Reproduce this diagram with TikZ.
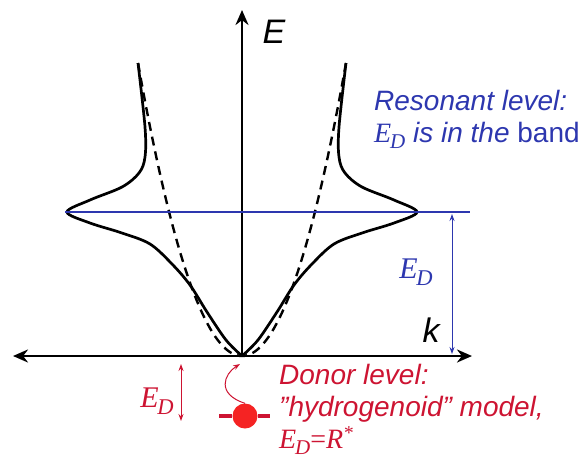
\documentclass[tikz,border=0pt]{standalone}
\usepackage{fontspec}
\setmainfont{Liberation Sans}
\newfontfamily\tms{Liberation Serif}
\usetikzlibrary{arrows.meta}
\definecolor{lvlBlue}{RGB}{45,55,175}
\definecolor{dnrRed}{RGB}{205,20,50}
\definecolor{dotRed}{RGB}{245,35,35}
\newcommand{\EDsym}{{\tms\itshape E\kern-0.04em\raisebox{-0.22em}{\scalebox{0.75}{D}}}}

\begin{document}
\begin{tikzpicture}[x=1pt, y=-1pt,
  ax/.style={line width=2.9pt, black},
  band/.style={line width=2.7pt, black, line join=round},
  free/.style={line width=2.4pt, black, dash pattern=on 9pt off 6pt},
  lvl/.style={line width=1.3pt, lvlBlue},
  gap/.style={line width=1pt, {Stealth[length=7pt,width=5pt]}-{Stealth[length=7pt,width=5pt]}},
  ann/.style={font=\fontsize{28}{32}\selectfont\itshape, align=left, inner sep=0pt},
  big/.style={font=\fontsize{34}{34}\selectfont\itshape, inner sep=0pt},
  >={Stealth[length=15pt,width=13pt]}
]
\useasboundingbox (0,0) rectangle (583,464);

%% -- axes ----------------------------------------------------
\coordinate (o) at (242,356);
\coordinate (kl) at (13,356);
\coordinate (kr) at (472,356);
\coordinate (et) at (242,10);
\draw[ax, <->] (kl) -- (kr);
\draw[ax, ->] (o) -- (et);
\node[big] (elab) at (274,32) {E};
\node[big] (klab) at (431,330) {k};

%% -- dispersion: free (dashed) and with resonance (solid) -----
\foreach \sd in {1,-1}{
  \begin{scope}[shift={(242,0)}, xscale=\sd]
    \draw[free] plot[domain=-104:0, samples=40] (\x, {356-293*(\x/104)^2});
    \draw[band] plot[smooth, tension=0.55] coordinates {
      (-104,63) (-97,127) (-97,157) (-103,173) (-120,187) (-152,200)
      (-175,212) (-152,223) (-120,233) (-92,244) (-70,264) (-52,285)
      (-35,312) (-16,340) (0,356)};
  \end{scope}
}

%% -- resonant level ------------------------------------------
\coordinate (rl) at (65,212);
\coordinate (rr) at (470,212);
\draw[lvl] (rl) -- (rr);
\coordinate (gt) at (452,214);
\coordinate (gb) at (452,354);
\draw[gap, lvlBlue] (gt) -- (gb);
\node[ann, lvlBlue, font=\fontsize{30}{30}\selectfont] (edb) at (416,272) {\EDsym};
\node[ann, lvlBlue, anchor=west] (res) at (374,119)
  {Resonant level:\\\EDsym{} is in the {\upshape band}};

%% -- donor level ---------------------------------------------
\coordinate (dt) at (181,364);
\coordinate (db) at (181,421);
\draw[gap, dnrRed] (dt) -- (db);
\node[ann, dnrRed, font=\fontsize{30}{30}\selectfont] (edr) at (157,401) {\EDsym};
\node[fill=dotRed, circle, minimum size=25pt, inner sep=0pt] (dot) at (245,416) {};
\draw[dnrRed, line width=3.8pt] (dot.center) ++(-26,0) coordinate (dl) -- (dot.west);
\draw[dnrRed, line width=3.8pt] (dot.east) -- ++(12,0) coordinate (dr);
\coordinate (hit) at (240,364);
\draw[dnrRed, line width=1pt, -{Stealth[length=7pt,width=5pt]}]
  (dot.north) .. controls (216,394) and (224,374) .. (hit);
\node[ann, dnrRed, anchor=north west] (don) at (279,364)
  {Donor level:\\\symbol{34}hydrogenoid\symbol{34} model,\\{\tms\itshape E\kern-0.04em\raisebox{-0.22em}{\scalebox{0.75}{D}}\upshape=\itshape R\textsuperscript{*}}};
\end{tikzpicture}
\end{document}
